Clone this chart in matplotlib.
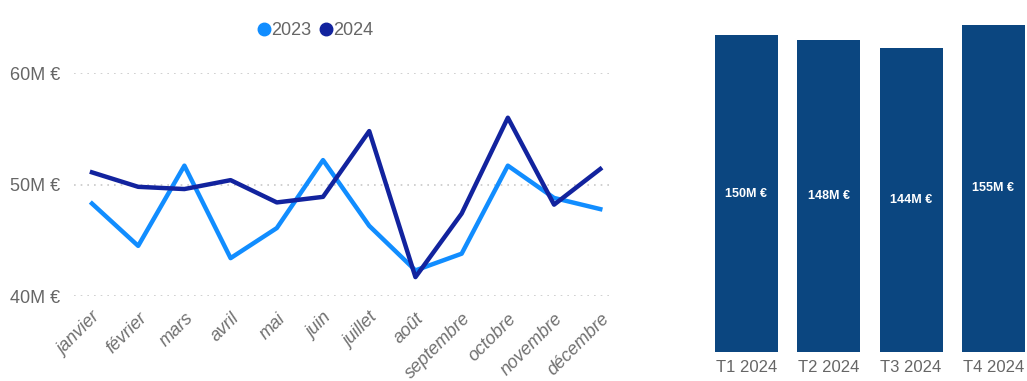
import matplotlib
matplotlib.use("Agg")
import matplotlib.pyplot as plt
from matplotlib.lines import Line2D

plt.rcParams['font.family'] = ['Liberation Sans', 'DejaVu Sans']

# Data
months = ["janvier", "février", "mars", "avril", "mai", "juin", "juillet",
          "août", "septembre", "octobre", "novembre", "décembre"]
sales_2023 = [48.3, 44.5, 51.7, 43.4, 46.1, 52.2, 46.3, 42.3, 43.8, 51.7, 48.8, 47.8]
sales_2024 = [51.1, 49.8, 49.6, 50.4, 48.4, 48.9, 54.8, 41.7, 47.4, 56.0, 48.2, 51.4]
quarters = ["T1 2024", "T2 2024", "T3 2024", "T4 2024"]
quarter_totals = [150, 148, 144, 155]

c2023 = "#118DFF"
c2024 = "#12239E"
cbar = "#0B4680"
grey = "#666666"

fig = plt.figure(figsize=(10.27, 3.81), dpi=100)

# line chart
ax = fig.add_axes([0.072, 0.223, 0.526, 0.585])
x = range(len(months))
ax.plot(x, sales_2023, color=c2023, lw=3.2, zorder=3)
ax.plot(x, sales_2024, color=c2024, lw=3.2, zorder=4)
ax.set_xlim(-0.39, 11.3)
ax.set_ylim(40, 60)
ax.set_yticks([40, 50, 60])
ax.set_yticklabels(["40M €", "50M €", "60M €"], fontsize=13, color=grey)
ax.yaxis.grid(True, color="#c8c8c8", linestyle=(0, (1, 3)), lw=1.2)
ax.set_xticks(list(x))
ax.set_xticklabels(months, rotation=45, ha="right", rotation_mode="anchor",
                   fontsize=13, color="#707070", style="italic")
ax.tick_params(axis="y", length=0, pad=10)
ax.tick_params(axis="x", length=0, pad=10)
for s in ax.spines.values():
    s.set_visible(False)
for ln in ax.lines:
    ln.set_clip_on(False)

handles = [Line2D([], [], marker="o", ls="", color=c2023, markersize=9),
           Line2D([], [], marker="o", ls="", color=c2024, markersize=9)]
fig.legend(handles, ["2023", "2024"], loc="center", bbox_to_anchor=(0.306, 0.92),
           ncol=2, frameon=False, fontsize=13, labelcolor=grey,
           handletextpad=-0.1, columnspacing=0.3, handlelength=1.0)

# bar chart
bx = fig.add_axes([0.696, 0.076, 0.302, 0.924])
bpos = range(len(quarters))
bars = bx.bar(bpos, quarter_totals, width=0.765, color=cbar)
for b, v in zip(bars, quarter_totals):
    bx.text(b.get_x() + b.get_width() / 2, v / 2, f"{v}M €", ha="center",
            va="center", color="white", fontsize=9, fontweight="bold")
bx.set_xlim(-0.383, 3.383)
bx.set_ylim(0, 166.8)
bx.set_xticks(list(bpos))
bx.set_xticklabels(quarters, fontsize=12, color=grey)
bx.set_yticks([])
bx.tick_params(length=0, pad=6)
for s in bx.spines.values():
    s.set_visible(False)

fig.savefig("out.png", dpi=100)
